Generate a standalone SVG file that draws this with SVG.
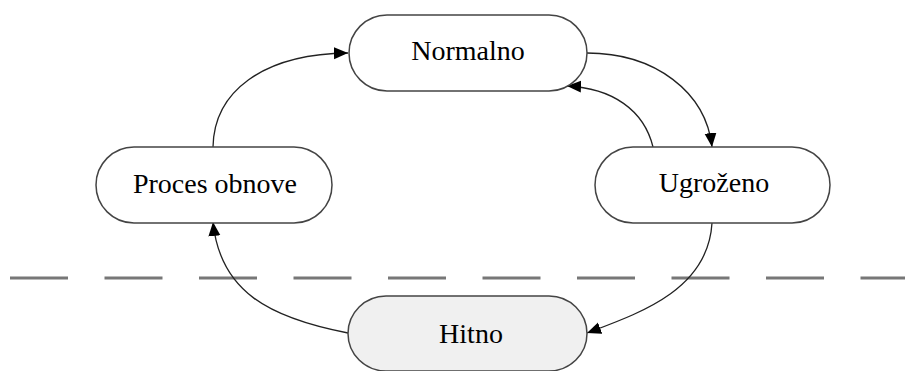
<svg xmlns="http://www.w3.org/2000/svg" width="905" height="371" viewBox="0 0 905 371">
<style>
.box{fill:#ffffff;stroke:#444444;stroke-width:1.5}
.hot{fill:#f0f0f0}
.lbl{font-family:"Liberation Serif","Times New Roman",serif;font-size:28px;fill:#000;text-anchor:middle}
.edge{fill:none;stroke:#222;stroke-width:1.3;marker-end:url(#arr)}
.sep{stroke:#777;stroke-width:3;stroke-dasharray:58 36.5}
</style>
<defs>
<marker id="arr" markerUnits="userSpaceOnUse" markerWidth="16" markerHeight="14" refX="14" refY="6" orient="auto">
<path d="M0,0 L14,6 L0,12 Z" fill="#000"/>
</marker>
</defs>
<line class="sep" x1="10" y1="278" x2="905" y2="278"/>
<g id="connectors">
<path class="edge" d="M213,147 C214,92 262,54 348,53"/>
<path class="edge" d="M587,53 C655,53 706,92 712,147"/>
<path class="edge" d="M653,147 C644,110 612,88 567,86"/>
<path class="edge" d="M712,223 C708,290 640,313 587,333"/>
<path class="edge" d="M348,333 C270,318 220,292 213,222"/>
</g>
<g id="normalno">
<rect class="box" x="349" y="15" width="238" height="76" rx="38" ry="38"/>
<text class="lbl" x="468" y="60">Normalno</text>
</g>
<g id="ugrozeno">
<rect class="box" x="595" y="147" width="235" height="76" rx="38" ry="38"/>
<text class="lbl" x="714" y="192">Ugroženo</text>
</g>
<g id="proces-obnove">
<rect class="box" x="96" y="147" width="236" height="76" rx="38" ry="38"/>
<text class="lbl" x="215" y="193">Proces obnove</text>
</g>
<g id="hitno">
<rect class="box hot" x="348" y="296" width="239" height="75" rx="38" ry="38"/>
<text class="lbl" x="471" y="343">Hitno</text>
</g>
</svg>
